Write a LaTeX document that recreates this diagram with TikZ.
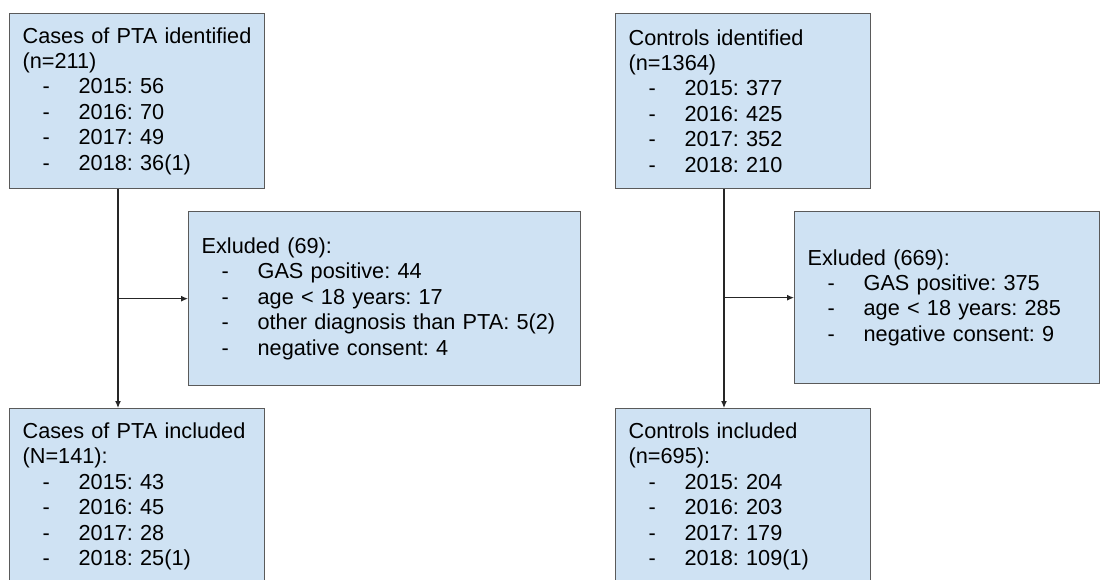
\documentclass[tikz,border=0pt]{standalone}
\usepackage{fontspec}
\setmainfont{Liberation Sans}
\usepackage{xcolor}
\definecolor{boxblue}{RGB}{207,226,243}
\definecolor{boxline}{RGB}{90,90,90}
\usepackage{tikz}
\usetikzlibrary{arrows.meta}
\frenchspacing
\newcommand{\yritem}[1]{\makebox[56pt][l]{\hspace*{20pt}-}#1}

\begin{document}
\begin{tikzpicture}[x=1pt, y=-1pt,
    flowbox/.style={draw=boxline, line width=1.3pt, fill=boxblue, anchor=north west,
        align=left, inner xsep=13pt, inner ysep=0pt, minimum height=175.5pt,
        font=\fontsize{21.7}{25.4}\selectfont},
    flowarrow/.style={draw=black!85, line width=1.2pt, -{Latex[length=7pt,width=6pt]}}]
    \useasboundingbox (0,0) rectangle (1101,579);
    % cases of PTA
    \node[flowbox, text width=229pt] (caseid) at (9,12.5)
        {Cases of PTA identified\\(n=211)\\\yritem{2015: 56}\\\yritem{2016: 70}\\\yritem{2017: 49}\\\yritem{2018: 36(1)}};
    \node[flowbox, text width=366pt, minimum height=174pt] (caseex) at (188,211)
        {Exluded (69):\\\yritem{GAS positive: 44}\\\yritem{age < 18 years: 17}\\\yritem{other diagnosis than PTA: 5(2)}\\\yritem{negative consent: 4}};
    \node[flowbox, text width=229pt] (casein) at (9,408)
        {Cases of PTA included\\(N=141):\\\yritem{2015: 43}\\\yritem{2016: 45}\\\yritem{2017: 28}\\\yritem{2018: 25(1)}};
    % controls
    \node[flowbox, text width=229pt] (ctrlid) at (615,12.5)
        {Controls identified\\(n=1364)\\\yritem{2015: 377}\\\yritem{2016: 425}\\\yritem{2017: 352}\\\yritem{2018: 210}};
    \node[flowbox, text width=279pt, minimum height=172pt] (ctrlex) at (794,211)
        {Exluded (669):\\\yritem{GAS positive: 375}\\\yritem{age < 18 years: 285}\\\yritem{negative consent: 9}};
    \node[flowbox, text width=229pt] (ctrlin) at (615,408)
        {Controls included\\(n=695):\\\yritem{2015: 204}\\\yritem{2016: 203}\\\yritem{2017: 179}\\\yritem{2018: 109(1)}};
    % connectors
    \coordinate (casefork) at (118,297);
    \coordinate (ctrlfork) at (724,297);
    \draw[flowarrow] (caseid.south -| casefork) -- (casein.north -| casefork);
    \draw[flowarrow] (casefork |- caseex.west) -- (caseex.west);
    \draw[flowarrow] (ctrlid.south -| ctrlfork) -- (ctrlin.north -| ctrlfork);
    \draw[flowarrow] (ctrlfork |- ctrlex.west) -- (ctrlex.west);
\end{tikzpicture}
\end{document}
